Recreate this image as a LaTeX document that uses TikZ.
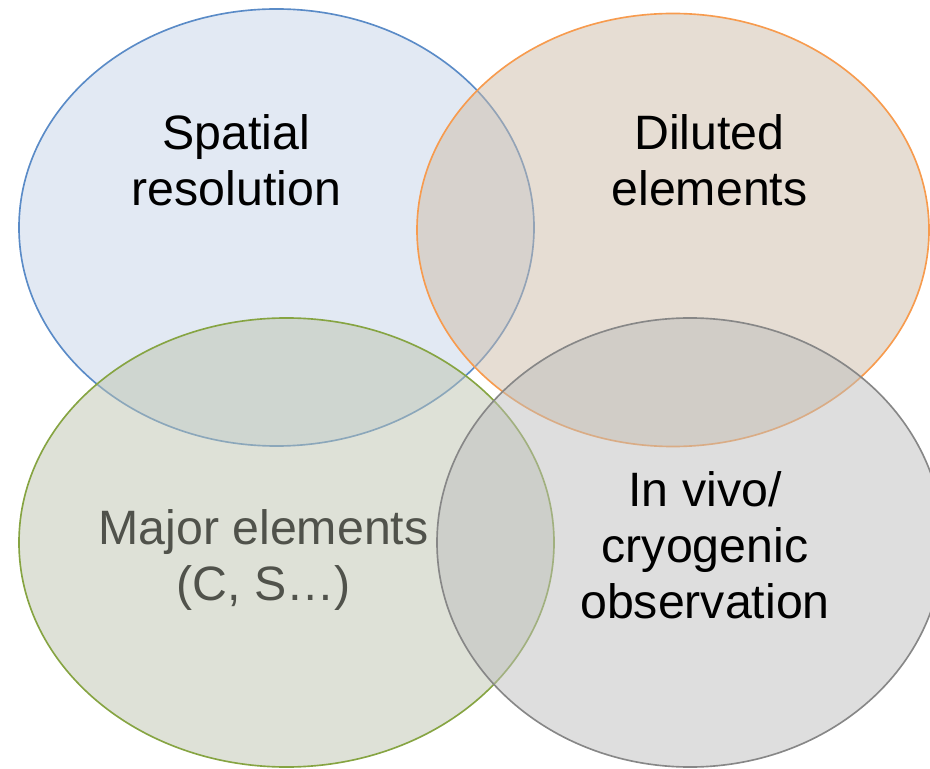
\documentclass[tikz,border=0pt]{standalone}
\usepackage{fontspec}
\setmainfont{Liberation Sans}
\usetikzlibrary{shapes.geometric}

\definecolor{spatialline}{HTML}{5A8BC7}
\definecolor{spatialfill}{HTML}{C5D3E7}
\definecolor{dilutedline}{HTML}{F79B4E}
\definecolor{dilutedfill}{HTML}{CDBBA7}
\definecolor{majorline}{HTML}{86A442}
\definecolor{majorfill}{HTML}{BDC3AF}
\definecolor{majortext}{HTML}{50524B}
\definecolor{vivoline}{HTML}{878787}
\definecolor{vivofill}{HTML}{BDBDBD}

\begin{document}
\begin{tikzpicture}[
    x=0.03cm, y=-0.03cm,
    set/.style={ellipse, draw, line width=1.4pt, inner sep=0pt, fill opacity=0.5},
    setlabel/.style={align=center, font=\fontsize{41.2}{48}\selectfont},
  ]
  % Frame
  \useasboundingbox (0,0) rectangle (930,769);
  % Sets
  \node[set, draw=spatialline, fill=spatialfill, minimum width=15.45cm, minimum height=13.11cm] (spatial) at (276.5,227.5) {};
  \node[set, draw=dilutedline, fill=dilutedfill, minimum width=15.36cm, minimum height=12.99cm] (diluted) at (673,230) {};
  \node[set, draw=majorline, fill=majorfill, minimum width=16.05cm, minimum height=13.47cm] (major) at (286.5,542.5) {};
  \node[set, draw=vivoline, fill=vivofill, minimum width=15.18cm, minimum height=13.47cm] (vivo) at (690,542.5) {};
  % Labels
  \node[setlabel] (spatialtext) at (236.5,160) {Spatial\\resolution};
  \node[setlabel] (dilutedtext) at (709.5,160) {Diluted\\elements};
  \node[setlabel, text=majortext] (majortxt) at (263.5,560) {Major elements\\(C, S…)};
  \node[setlabel] (vivotext) at (705,545.5) {In vivo/\\cryogenic\\observation};
\end{tikzpicture}
\end{document}
